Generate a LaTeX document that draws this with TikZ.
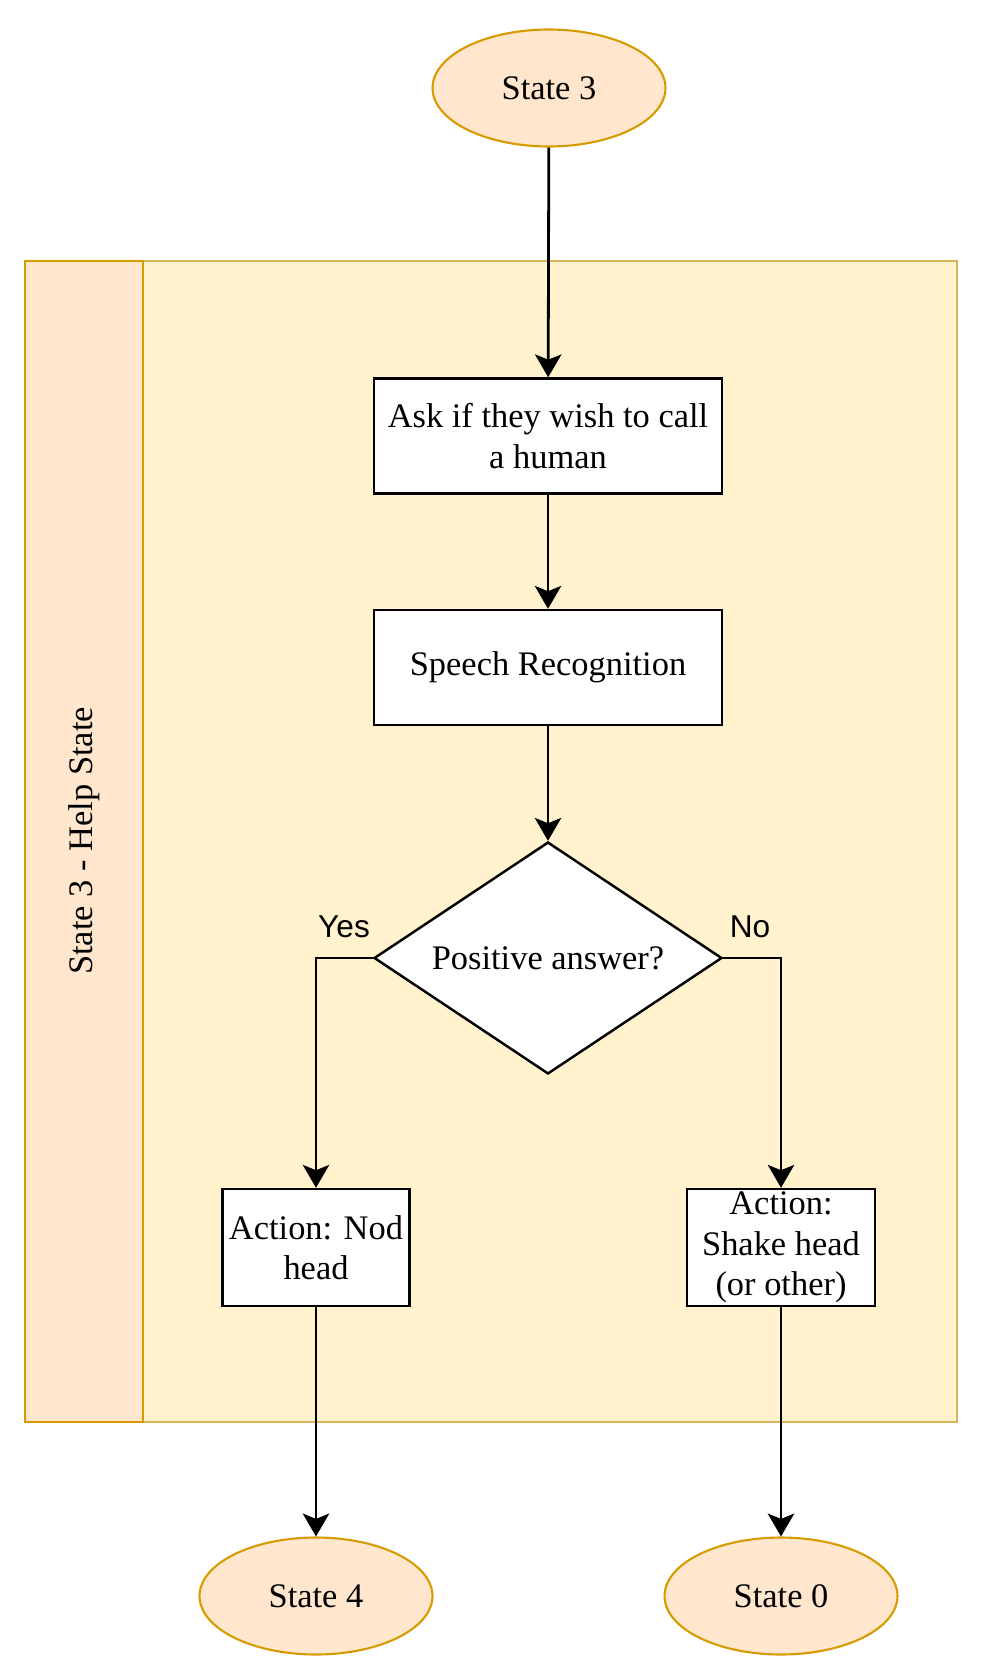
\documentclass[tikz,border=0pt]{standalone}
\usepackage{fontspec}
\setmainfont{Liberation Serif}
\newfontfamily\answerfont{Liberation Sans}
\usepackage{tikz}
\usetikzlibrary{shapes.geometric, arrows.meta}
\definecolor{stateorange}{RGB}{255, 230, 204}
\definecolor{stategold}{RGB}{215, 155, 0}
\definecolor{poolyellow}{RGB}{255, 242, 204}
\definecolor{poolgold}{RGB}{214, 182, 86}

\tikzset{
  statenode/.style={ellipse, draw=stategold, fill=stateorange, line width=1.2pt,
    minimum width=4.66cm, minimum height=2.34cm, inner sep=0pt,
    font=\fontsize{19.6}{23}\selectfont},
  procbox/.style={rectangle, draw=black, fill=white, line width=1.4pt,
    align=center, inner sep=0pt, minimum height=2.3cm,
    font=\fontsize{19.6}{23}\selectfont},
  decision/.style={diamond, draw=black, fill=white, line width=1.4pt,
    aspect=1.5, inner sep=0pt, minimum width=6.96cm, minimum height=4.64cm,
    font=\fontsize{19.6}{23}\selectfont},
  flow/.style={-{Stealth[length=13pt, width=15pt, inset=3pt]}, line width=1.6pt},
  answer/.style={font=\answerfont\fontsize{18}{22}\selectfont}
}

\begin{document}
\begin{tikzpicture}[x=0.02cm, y=-0.02cm]
    \useasboundingbox (0,0) rectangle (985,1676);

    %% pool with its lane header
    \draw[poolgold, fill=poolyellow, line width=1pt] (25,261) rectangle (957,1422);
    \draw[stategold, fill=stateorange, line width=1.5pt] (25,261) rectangle (143,1422);
    \node[rotate=90, font=\fontsize{19.6}{23}\selectfont] (lane) at (84,841)
      {State 3 - Help State};

    %% states and steps
    \node[statenode] (s3) at (549,88) {State 3};
    \node[procbox, minimum width=6.96cm] (ask) at (548,436)
      {Ask if they wish to call\\a human};
    \node[procbox, minimum width=6.96cm] (speech) at (548,667.5)
      {Speech Recognition};
    \node[decision] (dec) at (548,958) {Positive answer?};
    \node[procbox, minimum width=3.74cm, minimum height=2.34cm] (nod) at (316,1247.5)
      {Action: Nod\\head};
    \node[procbox, minimum width=3.76cm, minimum height=2.34cm] (shake) at (781,1247.5)
      {Action:\\Shake head\\(or other)};
    \node[statenode] (s4) at (316,1596) {State 4};
    \node[statenode] (s0) at (781,1596) {State 0};

    %% answers
    \node[answer] (yes) at (344,927) {Yes};
    \node[answer] (no) at (750,927) {No};

    %% arrows
    \draw[flow] (s3) -- (ask);
    \draw[flow] (ask) -- (speech);
    \draw[flow] (speech) -- (dec);
    \draw[flow] (dec.west) -| (nod.north);
    \draw[flow] (dec.east) -| (shake.north);
    \draw[flow] (nod) -- (s4);
    \draw[flow] (shake) -- (s0);
\end{tikzpicture}
\end{document}
